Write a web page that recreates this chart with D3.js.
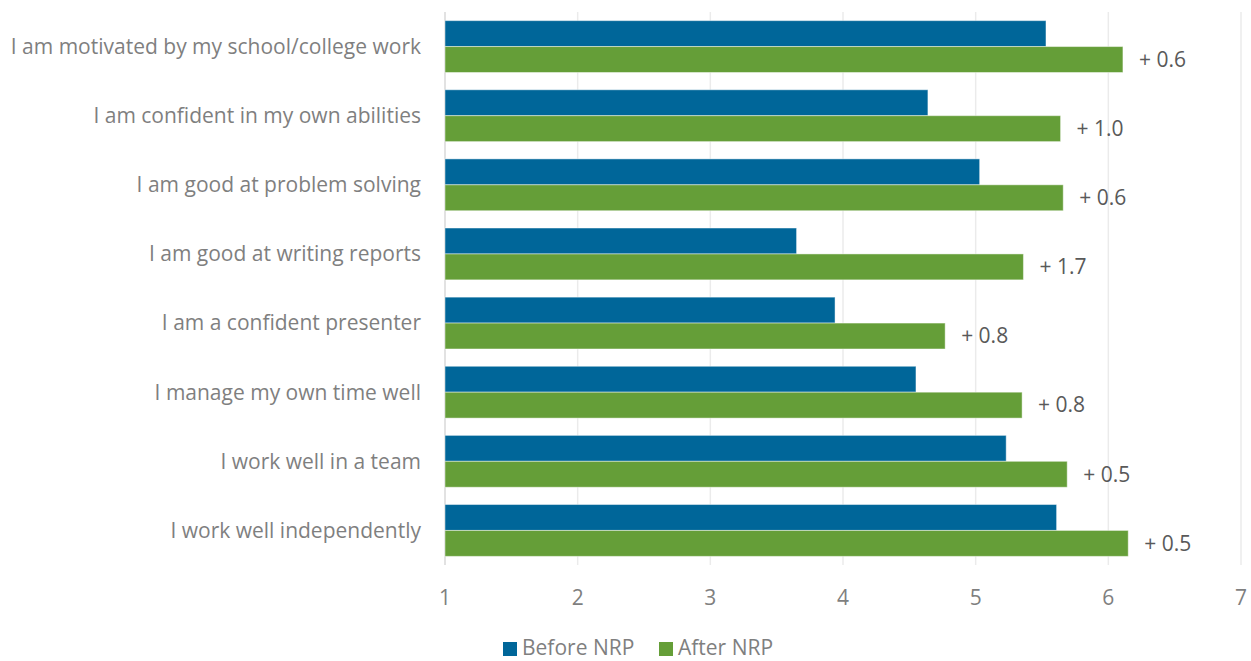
<!DOCTYPE html>
<html>
<head>
<meta charset="utf-8">
<script src="https://cdn.jsdelivr.net/npm/d3@7"></script>
<style>
  body { margin: 0; background: #fff; }
  svg { display: block; font-family: "Open Sans", sans-serif; }
</style>
</head>
<body>
<div id="chart"></div>
<script>
// Data
const categories = [
    "I am motivated by my school/college work",
    "I am confident in my own abilities",
    "I am good at problem solving",
    "I am good at writing reports",
    "I am a confident presenter",
    "I manage my own time well",
    "I work well in a team",
    "I work well independently"
];
const beforeValues = [5.53, 4.64, 5.03, 3.65, 3.94, 4.55, 5.23, 5.61];
const afterValues  = [6.11, 5.64, 5.66, 5.36, 4.77, 5.35, 5.69, 6.15];
const changeLabels = ["+ 0.6", "+ 1.0", "+ 0.6", "+ 1.7", "+ 0.8", "+ 0.8", "+ 0.5", "+ 0.5"];
const seriesNames = ["Before NRP", "After NRP"];
const xTicks = [1, 2, 3, 4, 5, 6, 7];

const width = 1251;
const height = 661;
const margin = { top: 12, right: 10, bottom: 96, left: 445 };
const colors = ["#006699", "#659e38"];

const svg = d3.select("#chart")
    .append("svg")
    .attr("width", width)
    .attr("height", height);

// Scales
const x = d3.scaleLinear()
    .domain([1, 7])
    .range([margin.left, 1241]);

const y = d3.scaleBand()
    .domain(categories)
    .range([margin.top, height - margin.bottom])
    .paddingInner(0.25)
    .paddingOuter(0.125);

const ySub = d3.scaleBand()
    .domain(seriesNames)
    .range([0, y.bandwidth()]);

// Vertical gridlines
svg.append("g")
    .selectAll("line")
    .data(xTicks)
    .enter().append("line")
    .attr("x1", d => x(d))
    .attr("x2", d => x(d))
    .attr("y1", margin.top)
    .attr("y2", height - margin.bottom)
    .attr("stroke", d => d === 1 ? "#d9d9d9" : "#ebebeb")
    .attr("stroke-width", 1.5);

// Tick labels
svg.append("g")
    .selectAll("text")
    .data(xTicks)
    .enter().append("text")
    .attr("x", d => x(d))
    .attr("y", 605)
    .attr("text-anchor", "middle")
    .attr("fill", "#7f7f7f")
    .style("font-size", "21px")
    .text(d => d);

// Bars
const rows = categories.map((c, i) => ({
    category: c,
    values: [beforeValues[i], afterValues[i]],
    label: changeLabels[i]
}));

const group = svg.append("g")
    .selectAll("g")
    .data(rows)
    .enter().append("g")
    .attr("transform", d => `translate(0,${y(d.category)})`);

group.selectAll("rect")
    .data(d => d.values.map((v, j) => ({ series: seriesNames[j], value: v, idx: j })))
    .enter().append("rect")
    .attr("x", x(1))
    .attr("y", d => ySub(d.series))
    .attr("width", d => x(d.value) - x(1))
    .attr("height", ySub.bandwidth())
    .attr("fill", d => colors[d.idx])
    .attr("stroke", "#ffffff")
    .attr("stroke-opacity", 0.45)
    .attr("stroke-width", 1);

// Change labels next to the After bars
group.append("text")
    .attr("x", d => x(d.values[1]) + 16)
    .attr("y", ySub(seriesNames[1]) + ySub.bandwidth() / 2)
    .attr("dy", "0.35em")
    .attr("fill", "#595959")
    .style("font-size", "21px")
    .text(d => d.label);

// Category labels
svg.append("g")
    .selectAll("text")
    .data(categories)
    .enter().append("text")
    .attr("x", 421)
    .attr("y", d => y(d) + y.bandwidth() / 2)
    .attr("dy", "0.35em")
    .attr("text-anchor", "end")
    .attr("fill", "#7f7f7f")
    .style("font-size", "21px")
    .text(d => d);

// Legend
const legend = svg.append("g")
    .attr("transform", "translate(503,648)");

const legendItems = legend.selectAll("g")
    .data(seriesNames)
    .enter().append("g")
    .attr("transform", (d, i) => `translate(${i * 156},0)`);

legendItems.append("rect")
    .attr("x", 0)
    .attr("y", -6)
    .attr("width", 14)
    .attr("height", 14)
    .attr("fill", (d, i) => colors[i]);

legendItems.append("text")
    .attr("x", 19)
    .attr("y", 6.5)
    .attr("fill", "#7f7f7f")
    .style("font-size", "21px")
    .text(d => d);
</script>
</body>
</html>
